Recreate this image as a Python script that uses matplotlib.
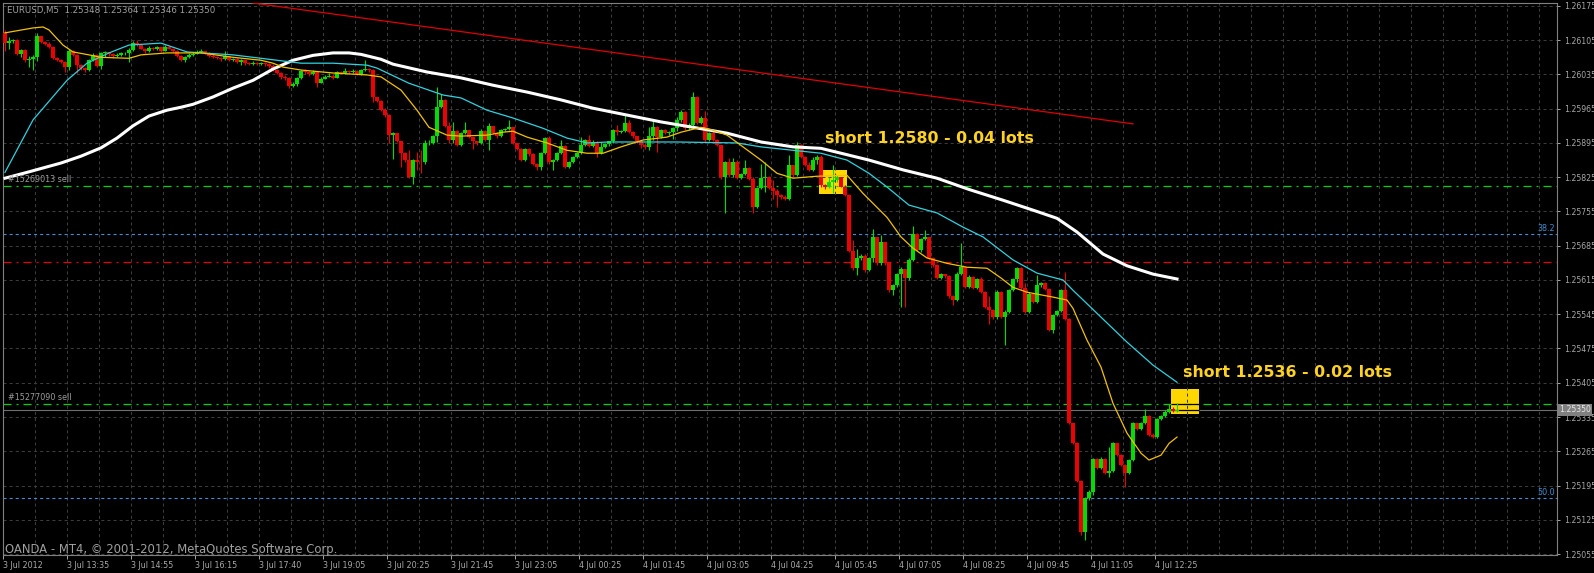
import matplotlib
matplotlib.use("Agg")
import matplotlib.pyplot as plt
import matplotlib.transforms as mtransforms
from matplotlib.patches import Rectangle
import numpy as np

plt.rcParams['lines.scale_dashes'] = False
plt.rcParams['font.family'] = ['DejaVu Sans']

# EURUSD M5, 3-4 Jul 2012. Prices in points above 1.25000 (1 point = 0.00001)
first_open = 1120
close_pts = [
    1099, 1104, 1106, 1077, 1084, 1064, 1066, 1070, 1113, 1102,
    1098, 1092, 1068, 1064, 1061, 1050, 1082, 1075, 1054, 1048,
    1044, 1064, 1075, 1052, 1078, 1080, 1077, 1072, 1075, 1078,
    1079, 1084, 1100, 1095, 1088, 1082, 1090, 1086, 1091, 1083,
    1092, 1088, 1082, 1073, 1064, 1070, 1075, 1077, 1080, 1082,
    1078, 1073, 1071, 1068, 1066, 1072, 1064, 1067, 1061, 1065,
    1058, 1056, 1059, 1057, 1058, 1056, 1053, 1045, 1038, 1030,
    1027, 1011, 1016, 1028, 1042, 1039, 1035, 1041, 1017, 1026,
    1030, 1032, 1028, 1040, 1038, 1042, 1039, 1043, 1036, 1044,
    1047, 1044,
    988, 981, 963, 952, 911, 915, 899, 875, 860, 825,
    860, 857, 856, 894, 895, 909, 969, 983, 930, 901,
    920, 891, 916, 921, 907, 898, 894, 920, 901, 929,
    916, 909, 921, 924, 927, 894, 882, 861, 882, 872,
    852, 846, 875, 905, 856, 861, 874, 888, 846, 856,
    866, 874, 891, 901, 888, 897, 875, 886, 892, 898,
    921, 917, 920, 936, 918, 909, 898, 891, 886, 909,
    928, 907, 921, 916, 918, 925, 942, 958, 925, 932,
    989, 936, 947, 901, 915, 901, 891, 825, 856, 829,
    857, 824, 831, 843, 822, 764, 803, 823, 826, 803,
    796, 788, 785, 781, 849, 829, 890, 866, 850, 840,
    860, 866,
    809, 805, 815, 819, 826, 806, 788, 675, 639, 659,
    665, 635, 659, 703, 649, 693, 649, 594, 604, 628,
    638, 620, 656, 709, 676, 698, 702, 660, 645, 620,
    627, 624, 582, 574, 628, 642, 600, 622, 598, 618,
    591, 560, 553, 540, 591, 540, 550, 594, 618, 639,
    598, 550, 587, 570, 604, 608, 596, 513, 543, 551,
    594, 536, 322, 281, 205, 100, 169, 182, 249, 230,
    250, 221, 224, 281, 257, 237, 221, 248, 322, 310,
    322, 337, 298, 294, 330, 337, 345, 352, 348, 350,
]
high_pts = [
    1126, 1112, 1108, 1107, 1088, 1087, 1073, 1075, 1120, 1113,
    1104, 1101, 1093, 1070, 1066, 1063, 1086, 1085, 1077, 1056,
    1050, 1066, 1078, 1076, 1081, 1082, 1081, 1079, 1078, 1080,
    1081, 1090, 1103, 1105, 1096, 1090, 1093, 1092, 1094, 1092,
    1096, 1094, 1090, 1084, 1075, 1072, 1078, 1080, 1085, 1086,
    1083, 1080, 1076, 1073, 1070, 1083, 1073, 1069, 1068, 1067,
    1064, 1061, 1062, 1060, 1061, 1060, 1058, 1057, 1046, 1040,
    1033, 1029, 1020, 1030, 1045, 1046, 1043, 1044, 1043, 1029,
    1033, 1037, 1036, 1042, 1042, 1048, 1044, 1046, 1045, 1046,
    1064, 1049,
    1046, 988, 983, 966, 954, 918, 916, 900, 877, 880,
    862, 877, 880, 901, 901, 911, 1010, 996, 985, 938,
    938, 922, 918, 938, 922, 908, 899, 923, 921, 935,
    930, 917, 923, 926, 942, 928, 895, 884, 884, 884,
    874, 854, 877, 907, 909, 863, 876, 901, 890, 858,
    868, 876, 907, 903, 911, 901, 898, 897, 894, 900,
    923, 931, 922, 954, 942, 920, 910, 899, 894, 928,
    942, 929, 923, 923, 920, 928, 949, 962, 960, 935,
    999, 990, 950, 960, 917, 917, 903, 891, 858, 865,
    864, 860, 833, 860, 845, 825, 805, 853, 857, 828,
    820, 800, 790, 788, 870, 848, 897, 892, 868, 857,
    866, 870,
    870, 812, 826, 850, 829, 823, 810, 790, 696, 679,
    668, 669, 661, 720, 702, 707, 690, 651, 606, 630,
    642, 636, 660, 725, 711, 700, 718, 703, 662, 647,
    630, 628, 626, 585, 632, 690, 644, 625, 624, 620,
    622, 593, 582, 555, 594, 593, 553, 596, 620, 641,
    642, 608, 590, 589, 625, 610, 610, 598, 545, 553,
    596, 632, 538, 323, 283, 207, 171, 185, 251, 252,
    253, 252, 274, 283, 282, 259, 239, 250, 324, 323,
    324, 352, 339, 303, 333, 340, 350, 362, 356, 364,
]
low_pts = [
    1082, 1086, 1100, 1075, 1070, 1060, 1050, 1045, 1062, 1100,
    1096, 1090, 1066, 1062, 1058, 1040, 1045, 1073, 1037, 1045,
    1040, 1043, 1062, 1050, 1047, 1070, 1072, 1068, 1070, 1072,
    1075, 1060, 1082, 1093, 1086, 1078, 1080, 1084, 1084, 1080,
    1082, 1086, 1080, 1070, 1062, 1060, 1068, 1073, 1076, 1078,
    1076, 1071, 1068, 1066, 1063, 1064, 1062, 1062, 1059, 1054,
    1055, 1054, 1054, 1055, 1055, 1053, 1048, 1042, 1035, 1025,
    1024, 1008, 1009, 1012, 1026, 1036, 1032, 1034, 1009, 1018,
    1026, 1029, 1025, 1027, 1035, 1036, 1036, 1037, 1034, 1033,
    1042, 1041,
    979, 978, 960, 948, 894, 863, 897, 846, 857, 823,
    812, 840, 833, 853, 890, 893, 897, 967, 927, 894,
    894, 889, 888, 914, 905, 883, 890, 892, 898, 880,
    913, 906, 907, 920, 921, 892, 880, 858, 858, 869,
    850, 840, 840, 872, 853, 840, 858, 872, 843, 844,
    854, 864, 872, 889, 886, 886, 866, 873, 884, 889,
    895, 911, 915, 917, 916, 906, 895, 884, 883, 880,
    901, 877, 905, 913, 911, 904, 920, 938, 921, 922,
    930, 934, 934, 894, 899, 899, 889, 822, 751, 826,
    826, 821, 822, 829, 820, 751, 762, 801, 795, 800,
    780, 765, 780, 778, 778, 826, 827, 864, 847, 838,
    838, 853,
    805, 800, 803, 792, 815, 804, 786, 672, 635, 625,
    656, 632, 633, 652, 646, 646, 646, 590, 584, 601,
    560, 560, 614, 654, 674, 673, 696, 657, 642, 617,
    618, 620, 579, 564, 572, 626, 598, 598, 596, 596,
    588, 557, 526, 536, 536, 537, 482, 548, 592, 610,
    595, 548, 548, 567, 567, 601, 594, 510, 507, 541,
    549, 534, 320, 279, 203, 94, 83, 165, 175, 228,
    228, 218, 213, 222, 255, 235, 192, 219, 246, 308,
    309, 320, 296, 292, 292, 328, 335, 343, 345, 346,
]

# moving averages, read at selected bars (bar index, points)
yellow_bar = [0, 7, 9.5, 11, 14.5, 17, 21, 24, 31, 34, 40.5, 49, 57, 64, 67, 69.5, 74, 82, 90.5, 94,
              99, 103, 106, 110.5, 114, 120.5, 124.5, 127, 130.5, 135.5, 140.5, 145.5, 149.5, 154,
              159.5, 165.5, 169, 174, 177, 180.5, 184.5, 189, 193, 197, 203, 210.5, 214.5, 220.5,
              224, 227, 230.5, 235.5, 240.5, 245.5, 249, 252, 255.5, 262, 265.5, 267, 270.5, 274,
              277, 280.5, 284, 286, 289, 291, 293]
yellow_pts = [1120, 1130, 1132, 1126, 1095, 1081, 1075, 1070, 1068, 1075, 1079, 1079, 1070, 1064, 1058,
              1050, 1044, 1038, 1034, 1030, 1003, 962, 927, 911, 909, 911, 917, 919, 907, 895, 880,
              874, 874, 887, 901, 907, 917, 927, 921, 911, 887, 860, 833, 823, 827, 829, 792, 743,
              703, 680, 660, 649, 641, 639, 619, 600, 590, 580, 574, 557, 492, 437, 363, 302, 261,
              247, 257, 281, 294]
cyan_bar = [0, 7, 15.5, 20.5, 26, 31, 39, 45.5, 57, 74, 82, 90.5, 93, 101, 109.5, 114, 120.5, 127,
            134.5, 140.5, 145.5, 151, 168, 183, 189, 197, 204, 210.5, 216, 220.5, 226, 233, 239.5,
            244.5, 252, 258, 264.5, 267, 274, 280.5, 287, 293]
cyan_pts = [835, 942, 1023, 1058, 1079, 1095, 1099, 1081, 1075, 1058, 1058, 1054, 1048, 1017, 993,
            987, 962, 946, 925, 905, 895, 897, 897, 895, 887, 880, 874, 860, 833, 805, 768, 752,
            723, 703, 656, 629, 615, 594, 539, 488, 441, 406]
white_bar = [0, 6, 14, 19, 24, 28, 32, 36, 40.5, 44, 47, 52, 57, 62, 67, 72, 77, 82, 86, 89, 94, 97,
             105.5, 114, 122, 130.5, 139, 147, 155.5, 164, 172, 180.5, 189, 197, 204, 216, 224.5,
             233, 241, 249.5, 258, 263, 268, 274.5, 280.5, 287, 293]
white_pts = [823, 836, 854, 868, 885, 905, 930, 950, 962, 968, 974, 989, 1007, 1023, 1046, 1064,
             1074, 1079, 1079, 1076, 1066, 1056, 1040, 1028, 1013, 999, 983, 966, 952, 938, 927,
             915, 897, 887, 884, 860, 840, 823, 800, 778, 755, 741, 713, 668, 644, 627, 617]

price_labels = ["1.26175", "1.26105", "1.26035", "1.25965", "1.25895", "1.25825", "1.25755",
                "1.25685", "1.25615", "1.25545", "1.25475", "1.25405", "1.25335", "1.25265",
                "1.25195", "1.25125", "1.25055"]
date_labels = ["3 Jul 2012", "3 Jul 13:35", "3 Jul 14:55", "3 Jul 16:15", "3 Jul 17:40",
               "3 Jul 19:05", "3 Jul 20:25", "3 Jul 21:45", "3 Jul 23:05", "4 Jul 00:25",
               "4 Jul 01:45", "4 Jul 03:05", "4 Jul 04:25", "4 Jul 05:45", "4 Jul 07:05",
               "4 Jul 08:25", "4 Jul 09:45", "4 Jul 11:05", "4 Jul 12:25"]

order_levels = [1.25807, 1.25361]
order_names = ["#15269013 sell", "#15277090 sell"]
fib_levels = [1.25709, 1.25169]
fib_names = ["38.2", "50.0"]
red_level = 1.25652
bid = 1.25350
trend_bars = [62, 282]
trend_prices = [1.26181, 1.25934]
# trade boxes: bar from, bar to, low, high (points)
boxes = [(203.5, 210.5, 791, 840), (291.5, 298.5, 341, 392)]


def px(p):
    return 1.25 + np.asarray(p, dtype=float) / 1e5


close = np.array(close_pts)
opens = np.array([first_open] + close_pts[:-1])
highs = np.maximum.reduce([np.array(high_pts), opens, close])
lows = np.minimum.reduce([np.array(low_pts), opens, close])
idx = np.arange(len(close))
up = close >= opens

fig = plt.figure(figsize=(15.94, 5.73), dpi=100, facecolor='black')
ax = fig.add_axes([3 / 1594, 18 / 573, 1554 / 1594, 552 / 573], facecolor='black')
ax.set_xlim(-0.5, 388)
ax.set_ylim(1.25053, 1.26181)

tick_prices = [float(s) for s in price_labels]
grid = dict(color='#3c3c3c', lw=0.75, linestyle=(0, (2.2, 2.2)), zorder=1)
for k in range(1, 49):
    ax.axvline(8 * k - 0.5, **grid)
for t in tick_prices:
    ax.axhline(t, **grid)

for b0, b1, lo, hi in boxes:
    ax.add_patch(Rectangle((b0, px(lo)), b1 - b0, (hi - lo) / 1e5, fc='#ffd700', ec='none', zorder=0.5))

dashdot = (0, (5.8, 3.6, 1.4, 3.6))
for lev, name in zip(order_levels, order_names):
    ax.axhline(lev, color='#00d400', lw=0.9, linestyle=dashdot, zorder=2)
    ax.text(0.8, lev + 4e-5, name, color='#9a9a9a', fontsize=5.8, va='bottom', ha='left', zorder=6)
ax.axhline(red_level, color='#e60000', lw=0.9, linestyle=dashdot, zorder=2)
for lev, name in zip(fib_levels, fib_names):
    ax.axhline(lev, color='#3d8fd6', lw=0.8, linestyle=(0, (2.2, 2.2)), zorder=2)
    ax.text(387.5, lev + 3e-5, name, color='#3d8fd6', fontsize=5.8, va='bottom', ha='right', zorder=6)
ax.axhline(bid, color='#6e6e6e', lw=0.8, zorder=2)
b = boxes[1]
ax.hlines([order_levels[1], bid], b[0], b[1], color='black', lw=0.9, zorder=2.5)

# candles
for mask, col in ((up, '#00dd00'), (~up, '#ee0000')):
    ax.vlines(idx[mask], px(lows[mask]), px(highs[mask]), color=col, lw=0.8, zorder=3)
    body = np.maximum(np.abs(close[mask] - opens[mask]), 0.7) / 1e5
    ax.bar(idx[mask], body, bottom=px(np.minimum(close[mask], opens[mask])), width=0.8,
           color=col, lw=0, zorder=3)

ax.plot(white_bar, px(white_pts), color='white', lw=2.2, zorder=4, solid_joinstyle='round')
ax.plot(cyan_bar, px(cyan_pts), color='#2fd3e0', lw=0.9, zorder=4)
ax.plot(yellow_bar, px(yellow_pts), color='#f2c200', lw=0.9, zorder=4)
ax.plot(trend_bars, trend_prices, color='#e00000', lw=0.9, zorder=4)

ax.text(205, px(895), 'short 1.2580 - 0.04 lots', color='#ffd21f', fontsize=11.3,
        fontweight='bold', va='baseline', ha='left', zorder=7)
ax.text(294.5, px(417), 'short 1.2536 - 0.02 lots', color='#ffd21f', fontsize=11.3,
        fontweight='bold', va='baseline', ha='left', zorder=7, clip_on=False)

# axes styling
for s in ax.spines.values():
    s.set_color('#808080')
    s.set_linewidth(0.8)
ax.yaxis.tick_right()
ax.set_yticks(tick_prices)
ax.set_yticklabels(price_labels)
ax.tick_params(axis='y', colors='#a8a8a8', labelsize=5.6, length=2.5, width=0.7, pad=2.5)
ax.set_xticks([16 * m - 0.5 for m in range(len(date_labels))])
ax.set_xticklabels(date_labels, ha='left')
ax.tick_params(axis='x', colors='#a8a8a8', labelsize=5.8, length=3, width=0.7, pad=1.5)

trans = mtransforms.blended_transform_factory(ax.transAxes, ax.transData)
ax.text(1.0012, bid, '1.25350', transform=trans, va='center', ha='left', fontsize=5.6,
        color='#e8e8e8', zorder=10, clip_on=False,
        bbox=dict(boxstyle='square,pad=0.18', fc='#808080', ec='none'))

fig.text(7 / 1594, 1 - 10.5 / 573, 'EURUSD,M5  1.25348 1.25364 1.25346 1.25350',
         color='#a0a0a0', fontsize=6.2, va='center', ha='left')
fig.text(5 / 1594, 1 - 549.5 / 573, 'OANDA - MT4, © 2001-2012, MetaQuotes Software Corp.',
         color='#a0a0a0', fontsize=8.4, va='center', ha='left')

fig.savefig('out.png', dpi=100, facecolor='black')
